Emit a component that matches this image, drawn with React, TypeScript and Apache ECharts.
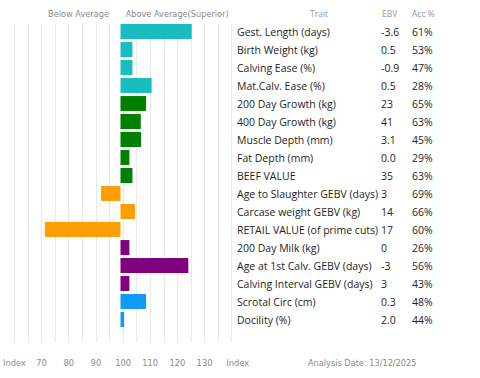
import React, { useEffect, useRef } from "react";
import * as echarts from "echarts";

const traits = [
  "Gest. Length (days)",
  "Birth Weight (kg)",
  "Calving Ease (%)",
  "Mat.Calv. Ease (%)",
  "200 Day Growth (kg)",
  "400 Day Growth (kg)",
  "Muscle Depth (mm)",
  "Fat Depth (mm)",
  "BEEF VALUE",
  "Age to Slaughter GEBV (days)",
  "Carcase weight GEBV (kg)",
  "RETAIL VALUE (of prime cuts)",
  "200 Day Milk (kg)",
  "Age at 1st Calv. GEBV (days)",
  "Calving Interval GEBV (days)",
  "Scrotal Circ (cm)",
  "Docility (%)",
];
const ebv = ["-3.6", "0.5", "-0.9", "0.5", "23", "41", "3.1", "0.0", "35", "3", "14", "17", "0", "-3", "3", "0.3", "2.0"];
const acc = ["61%", "53%", "47%", "28%", "65%", "63%", "45%", "29%", "63%", "69%", "66%", "60%", "26%", "56%", "43%", "48%", "44%"];
const indexValues = [125.6, 104.3, 104.3, 111.2, 109.2, 107.3, 107.4, 103.2, 104.3, 93.0, 105.2, 72.8, 103.2, 124.4, 103.2, 109.2, 101.3];
const groupColors = [
  "#19BDC1", "#19BDC1", "#19BDC1", "#19BDC1",
  "#008000", "#008000", "#008000", "#008000", "#008000",
  "#FF9E00", "#FF9E00", "#FF9E00",
  "#800080", "#800080", "#800080",
  "#0E9AF5", "#0E9AF5",
];
const BASE = 100;
const axisMin = 60;
const axisMax = 140;
const tickStep = 5;

const labelFont = "DejaVu Sans";
const tableFont = "Open Sans";

export default function App() {
  const ref = useRef<HTMLDivElement>(null);
  useEffect(() => {
    document.body.style.margin = "0";
    const chart = echarts.init(ref.current!, undefined, { renderer: "svg" });
    const left = 9.3;
    const right = 480 - 231.7;
    chart.setOption({
      animation: false,
      grid: [
        { left, right, top: 22.5, height: 306, containLabel: false },
        { left, right, top: 24, bottom: 36, containLabel: false },
      ],
      xAxis: [
        { gridIndex: 0, type: "value", min: axisMin - BASE, max: axisMax - BASE, interval: tickStep, show: false },
        {
          gridIndex: 1,
          type: "value",
          min: axisMin - BASE,
          max: axisMax - BASE,
          interval: tickStep,
          axisLine: { show: false },
          axisTick: { show: false },
          splitLine: { show: true, lineStyle: { color: "#e8e8e8", width: 1 } },
          axisLabel: {
            margin: 17,
            color: "#8a8a8a",
            fontFamily: labelFont,
            fontSize: 8.3,
            formatter: (v: number) => {
              const idx = v + BASE;
              if (idx === axisMin) return "Index";
              if (idx === axisMax) return "{r|Index}";
              return idx % 10 === 0 ? String(idx) : "";
            },
            rich: { r: { padding: [0, 0, 0, 12], color: "#8a8a8a", fontFamily: labelFont, fontSize: 8.3 } },
          },
        },
      ],
      yAxis: [
        {
          gridIndex: 0,
          type: "category",
          inverse: true,
          position: "right",
          data: traits,
          axisLine: { show: false },
          axisTick: { show: false },
          splitLine: { show: false },
          axisLabel: {
            margin: 5.3,
            align: "left",
            formatter: (_v: string, i: number) => `{t|${traits[i]}}{e|${ebv[i]}}{a|${acc[i]}}`,
            rich: {
              t: { width: 144, fontFamily: tableFont, fontSize: 10.5, color: "#1e1e1e" },
              e: { width: 31, fontFamily: tableFont, fontSize: 10.5, color: "#1e1e1e" },
              a: { fontFamily: tableFont, fontSize: 10.5, color: "#1e1e1e" },
            },
          },
        },
        { gridIndex: 1, type: "value", show: false, min: 0, max: 1 },
      ],
      series: [
        {
          type: "bar",
          xAxisIndex: 0,
          yAxisIndex: 0,
          barCategoryGap: "17%",
          data: indexValues.map((v, i) => ({ value: v - BASE, itemStyle: { color: groupColors[i] } })),
        },
        { type: "scatter", xAxisIndex: 1, yAxisIndex: 1, data: [] },
      ],
      graphic: [
        { type: "text", x: 78.5, y: 14, style: { text: "Below Average", fill: "#8a8a8a", font: `8.2px "${labelFont}"`, align: "center", verticalAlign: "middle" } },
        { type: "text", x: 125.7, y: 14, style: { text: "Above Average(Superior)", fill: "#8a8a8a", font: `8.2px "${labelFont}"`, align: "left", verticalAlign: "middle" } },
        { type: "text", x: 310, y: 13, style: { text: "Trait", fill: "#999", font: `8.5px "${tableFont}"`, align: "left", verticalAlign: "middle" } },
        { type: "text", x: 382, y: 13, style: { text: "EBV", fill: "#999", font: `8.5px "${tableFont}"`, align: "left", verticalAlign: "middle" } },
        { type: "text", x: 412, y: 13, style: { text: "Acc %", fill: "#999", font: `8.5px "${tableFont}"`, align: "left", verticalAlign: "middle" } },
        { type: "text", x: 308, y: 363, style: { text: "Analysis Date: 13/12/2025", fill: "#8a8a8a", font: `8.2px "${labelFont}"`, align: "left", verticalAlign: "middle" } },
      ],
    });
    return () => chart.dispose();
  }, []);
  return <div ref={ref} style={{ width: 480, height: 378 }} />;
}
